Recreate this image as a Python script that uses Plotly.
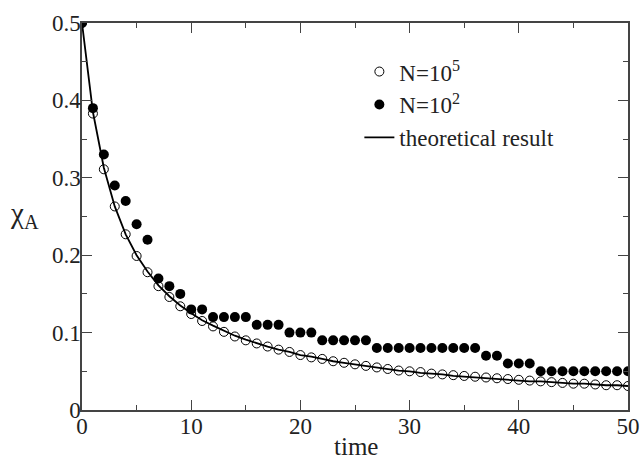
import plotly.graph_objects as go

time = list(range(51))
n1e5 = [0.500, 0.383, 0.311, 0.263, 0.227, 0.199, 0.178, 0.160, 0.146, 0.134,
        0.124, 0.115, 0.108, 0.101, 0.095, 0.090, 0.086, 0.082, 0.078, 0.075,
        0.071, 0.068, 0.066, 0.063, 0.061, 0.059, 0.057, 0.055, 0.053, 0.051,
        0.050, 0.049, 0.047, 0.046, 0.045, 0.044, 0.043, 0.042, 0.041, 0.040,
        0.039, 0.038, 0.037, 0.036, 0.035, 0.034, 0.034, 0.033, 0.032, 0.032, 0.031]
n1e2 = [0.50, 0.39, 0.33, 0.29, 0.27, 0.24, 0.22, 0.17, 0.16, 0.15,
        0.13, 0.13, 0.12, 0.12, 0.12, 0.12, 0.11, 0.11, 0.11, 0.10,
        0.10, 0.10, 0.09, 0.09, 0.09, 0.09, 0.09, 0.08, 0.08, 0.08,
        0.08, 0.08, 0.08, 0.08, 0.08, 0.08, 0.08, 0.07, 0.07, 0.06,
        0.06, 0.06, 0.05, 0.05, 0.05, 0.05, 0.05, 0.05, 0.05, 0.05, 0.05]
theory = [0.500, 0.385, 0.313, 0.263, 0.227, 0.200, 0.179, 0.161, 0.147, 0.135,
          0.125, 0.116, 0.109, 0.102, 0.096, 0.091, 0.086, 0.082, 0.078, 0.075,
          0.071, 0.069, 0.066, 0.063, 0.061, 0.059, 0.057, 0.055, 0.053, 0.051,
          0.050, 0.048, 0.047, 0.046, 0.044, 0.043, 0.042, 0.041, 0.040, 0.039,
          0.038, 0.037, 0.037, 0.036, 0.035, 0.034, 0.034, 0.033, 0.032, 0.032, 0.031]

FONT = "Liberation Serif"
AX = "#444"

fig = go.Figure()
fig.add_trace(go.Scatter(x=time, y=n1e5, mode="markers", name="N=10<sup>5</sup>",
                         marker=dict(symbol="circle-open", size=9, color="black",
                                     line=dict(width=1, color="black"))))
fig.add_trace(go.Scatter(x=time, y=n1e2, mode="markers", name="N=10<sup>2</sup>",
                         marker=dict(symbol="circle", size=10, color="black")))
fig.add_trace(go.Scatter(x=time, y=theory, mode="lines", name="theoretical result",
                         line=dict(color="black", width=1.8)))

axis_common = dict(showgrid=False, zeroline=False, showline=True, linecolor=AX,
                   linewidth=1.5, mirror="ticks", ticks="inside", ticklen=10,
                   tickwidth=1.3, tickcolor=AX, automargin=False,
                   tickfont=dict(family=FONT, size=23, color="#222"))
fig.update_xaxes(range=[0, 50], tick0=0, dtick=10, ticklabelstandoff=-5,
                 minor=dict(ticks="inside", ticklen=5, dtick=5, tickcolor=AX, tickwidth=1.2),
                 **axis_common)
fig.update_yaxes(range=[0, 0.5], tick0=0, dtick=0.1, tickformat="~g", ticklabelstandoff=-5,
                 minor=dict(ticks="inside", ticklen=5, dtick=0.05, tickcolor=AX, tickwidth=1.2),
                 **axis_common)

fig.add_annotation(text="time", xref="paper", yref="paper", x=0.502, y=-0.094,
                   showarrow=False, font=dict(family=FONT, size=25, color="#222"),
                   xanchor="center", yanchor="middle")
fig.add_annotation(text="χ<sub>A</sub>", xref="paper", yref="paper", x=-0.105, y=0.504,
                   showarrow=False, font=dict(family=FONT, size=29, color="#222"),
                   xanchor="center", yanchor="middle")

fig.update_layout(width=642, height=459, margin=dict(l=82, r=14, t=23, b=49),
                  plot_bgcolor="white", paper_bgcolor="white",
                  font=dict(family=FONT, color="#222"),
                  legend=dict(x=0.508, y=0.93, xanchor="left", yanchor="top",
                              bgcolor="rgba(0,0,0,0)", tracegroupgap=0,
                              font=dict(family=FONT, size=23, color="#222"),
                              itemwidth=30))
fig.write_html("out.html")
